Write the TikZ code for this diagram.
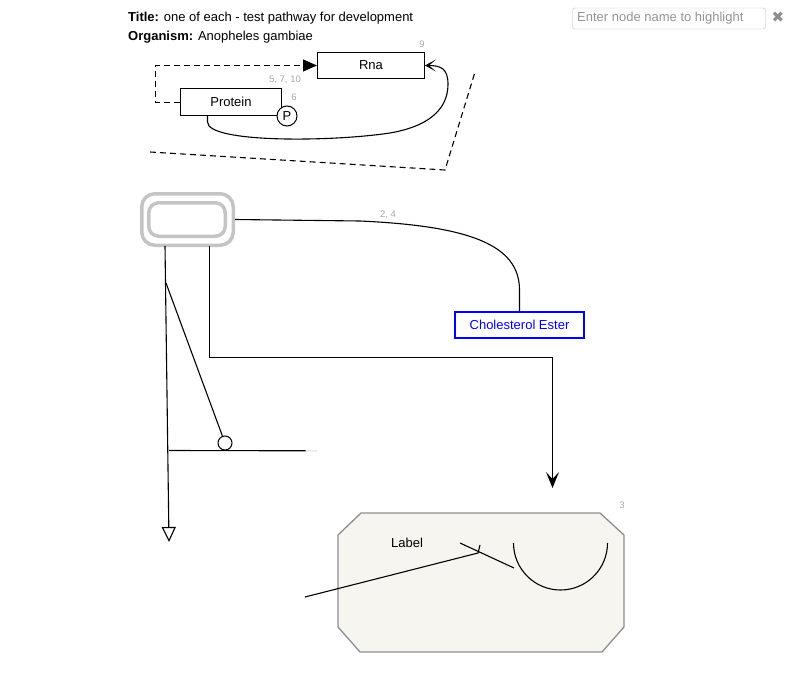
\documentclass[tikz,border=0pt]{standalone}
\usepackage{fontspec}
\setmainfont{Liberation Sans}
\newfontfamily\dingfont{DejaVu Sans}
\usetikzlibrary{arrows.meta,calc}
\definecolor{numgray}{HTML}{A8A8A8}
\definecolor{cplxgray}{HTML}{C4C4C4}
\definecolor{searchgray}{HTML}{BBBBBB}
\definecolor{labelfill}{HTML}{F6F5EF}
\definecolor{labeldraw}{HTML}{8E8E8E}
\definecolor{metblue}{HTML}{0000FF}

\begin{document}
\begin{tikzpicture}[x=1pt,y=-1pt,
    every node/.style={font=\fontsize{13}{15}\selectfont},
    num/.style={font=\fontsize{9.5}{11}\selectfont,text=numgray,inner sep=0pt},
    gene/.style={draw,line width=1pt,inner sep=0pt},
    conn/.style={line width=1.1pt},
    dashline/.style={conn,dash pattern=on 6pt off 4pt}]
\useasboundingbox (0,0) rectangle (790,682);

% header and search field
\node[anchor=west,inner sep=0pt] (title) at (128,18) {\textbf{Title:} one of each - test pathway for development};
\node[anchor=west,inner sep=0pt] (org) at (128,37) {\textbf{Organism:} Anopheles gambiae};
\node[draw=searchgray,rounded corners=2.5pt,minimum width=193pt,minimum height=21pt,inner sep=0pt] (search) at (669,18.5) {};
\node[anchor=west,inner sep=0pt,text=gray!85] (hint) at (577,18.5) {Enter node name to highlight};
\node[inner sep=0pt,text=gray!90,font=\fontsize{15}{15}\dingfont] (close) at (778,17) {✖};

% top group
\node[gene,minimum width=107pt,minimum height=26pt] (Rna) at (371,65.5) {Rna};
\node[gene,minimum width=101pt,minimum height=27pt] (Protein) at (231,102) {Protein};
\node[draw,circle,fill=white,line width=1pt,minimum size=20pt,inner sep=0pt] (P) at (287,116) {P};
\node[num] (n9) at (422,44) {9};
\node[num] (n5) at (285,80) {5, 7, 10};
\node[num] (n6) at (294,97) {6};
\coordinate (pb) at (207.5,116);
\coordinate (pl) at (155.5,102.5);
\draw[dashline,-{Triangle[length=14pt,width=12pt]}] (Protein.west |- pl) -- (pl) |- (Rna.west);
\draw[conn,-{Stealth[length=11pt,width=12pt,inset=7pt]}] (pb) -- ++(0,6)
  .. controls (207.5,143) and (330,142) .. (390,133)
  .. controls (436,125) and (448,104) .. (448,84)
  .. controls (448,68) and (440,65.5) .. (Rna.east);
\coordinate (g1) at (150,152);
\coordinate (g2) at (445,170);
\coordinate (g3) at (475,72);
\draw[dashline] (g1) -- (g2) -- (g3);

% complex and its connectors
\node[draw=cplxgray,line width=3.5pt,rounded corners=13pt,minimum width=91.5pt,minimum height=51.5pt,inner sep=0pt] (cplx) at (187.5,219.5) {};
\node[draw=cplxgray,line width=3.5pt,rounded corners=10pt,minimum width=76.5pt,minimum height=33.5pt,inner sep=0pt] (cplxin) at (187,219.5) {};
\node[draw=metblue,line width=1.3pt,text=metblue,minimum width=129pt,minimum height=26pt,inner sep=0pt] (Chol) at (519.5,325) {Cholesterol Ester};
\node[num] (n24) at (388,215) {2, 4};
\draw[conn] (cplx.east) -- (360,221) .. controls (470,226) and (519.5,245) .. (519.5,290) -- (Chol.north);
\coordinate (c1) at (165,246);
\coordinate (c2) at (209.5,246);
\coordinate (c3) at (169,542);
\coordinate (c4) at (552.5,488);
\draw[conn,-{Stealth[length=16pt,width=13pt,inset=7pt]}] (c2) -- (209.5,357.5) -| (c4);
\draw[conn,-{Triangle[open,length=15pt,width=14pt]}] (c1) -- (c3);
\node[draw,circle,line width=1pt,minimum size=14pt,inner sep=0pt] (mod) at (225,443) {};
\coordinate (m1) at (166,283);
\draw[conn] (m1) -- (mod);
\coordinate (h1) at (169,450.5);
\coordinate (h2) at (306,450.8);
\coordinate (h3) at (317,451);
\draw[conn] (h1) -- (h2);
\draw[conn,gray!25] (h2) -- (h3);

% label shape
\draw[fill=labelfill,draw=labeldraw,line width=1.3pt] (361,513) -- (600,513) -- (624,535) -- (624,627)
  -- (602,652) -- (360,652) -- (338,627) -- (338,535) -- cycle;
\node[num] (n3) at (622,505) {3};
\node (lbl) at (407,543) {Label};
\coordinate (a1) at (305,597);
\coordinate (a2) at (478,553);
\coordinate (a3) at (480,545);
\coordinate (b1) at (460,543);
\coordinate (b2) at (514,568);
\draw[conn] (a1) -- (a2) -- (a3);
\draw[conn] (b1) -- (b2);
\draw[conn] (607.5,543) arc[start angle=0,end angle=180,radius=47];
\end{tikzpicture}
\end{document}
